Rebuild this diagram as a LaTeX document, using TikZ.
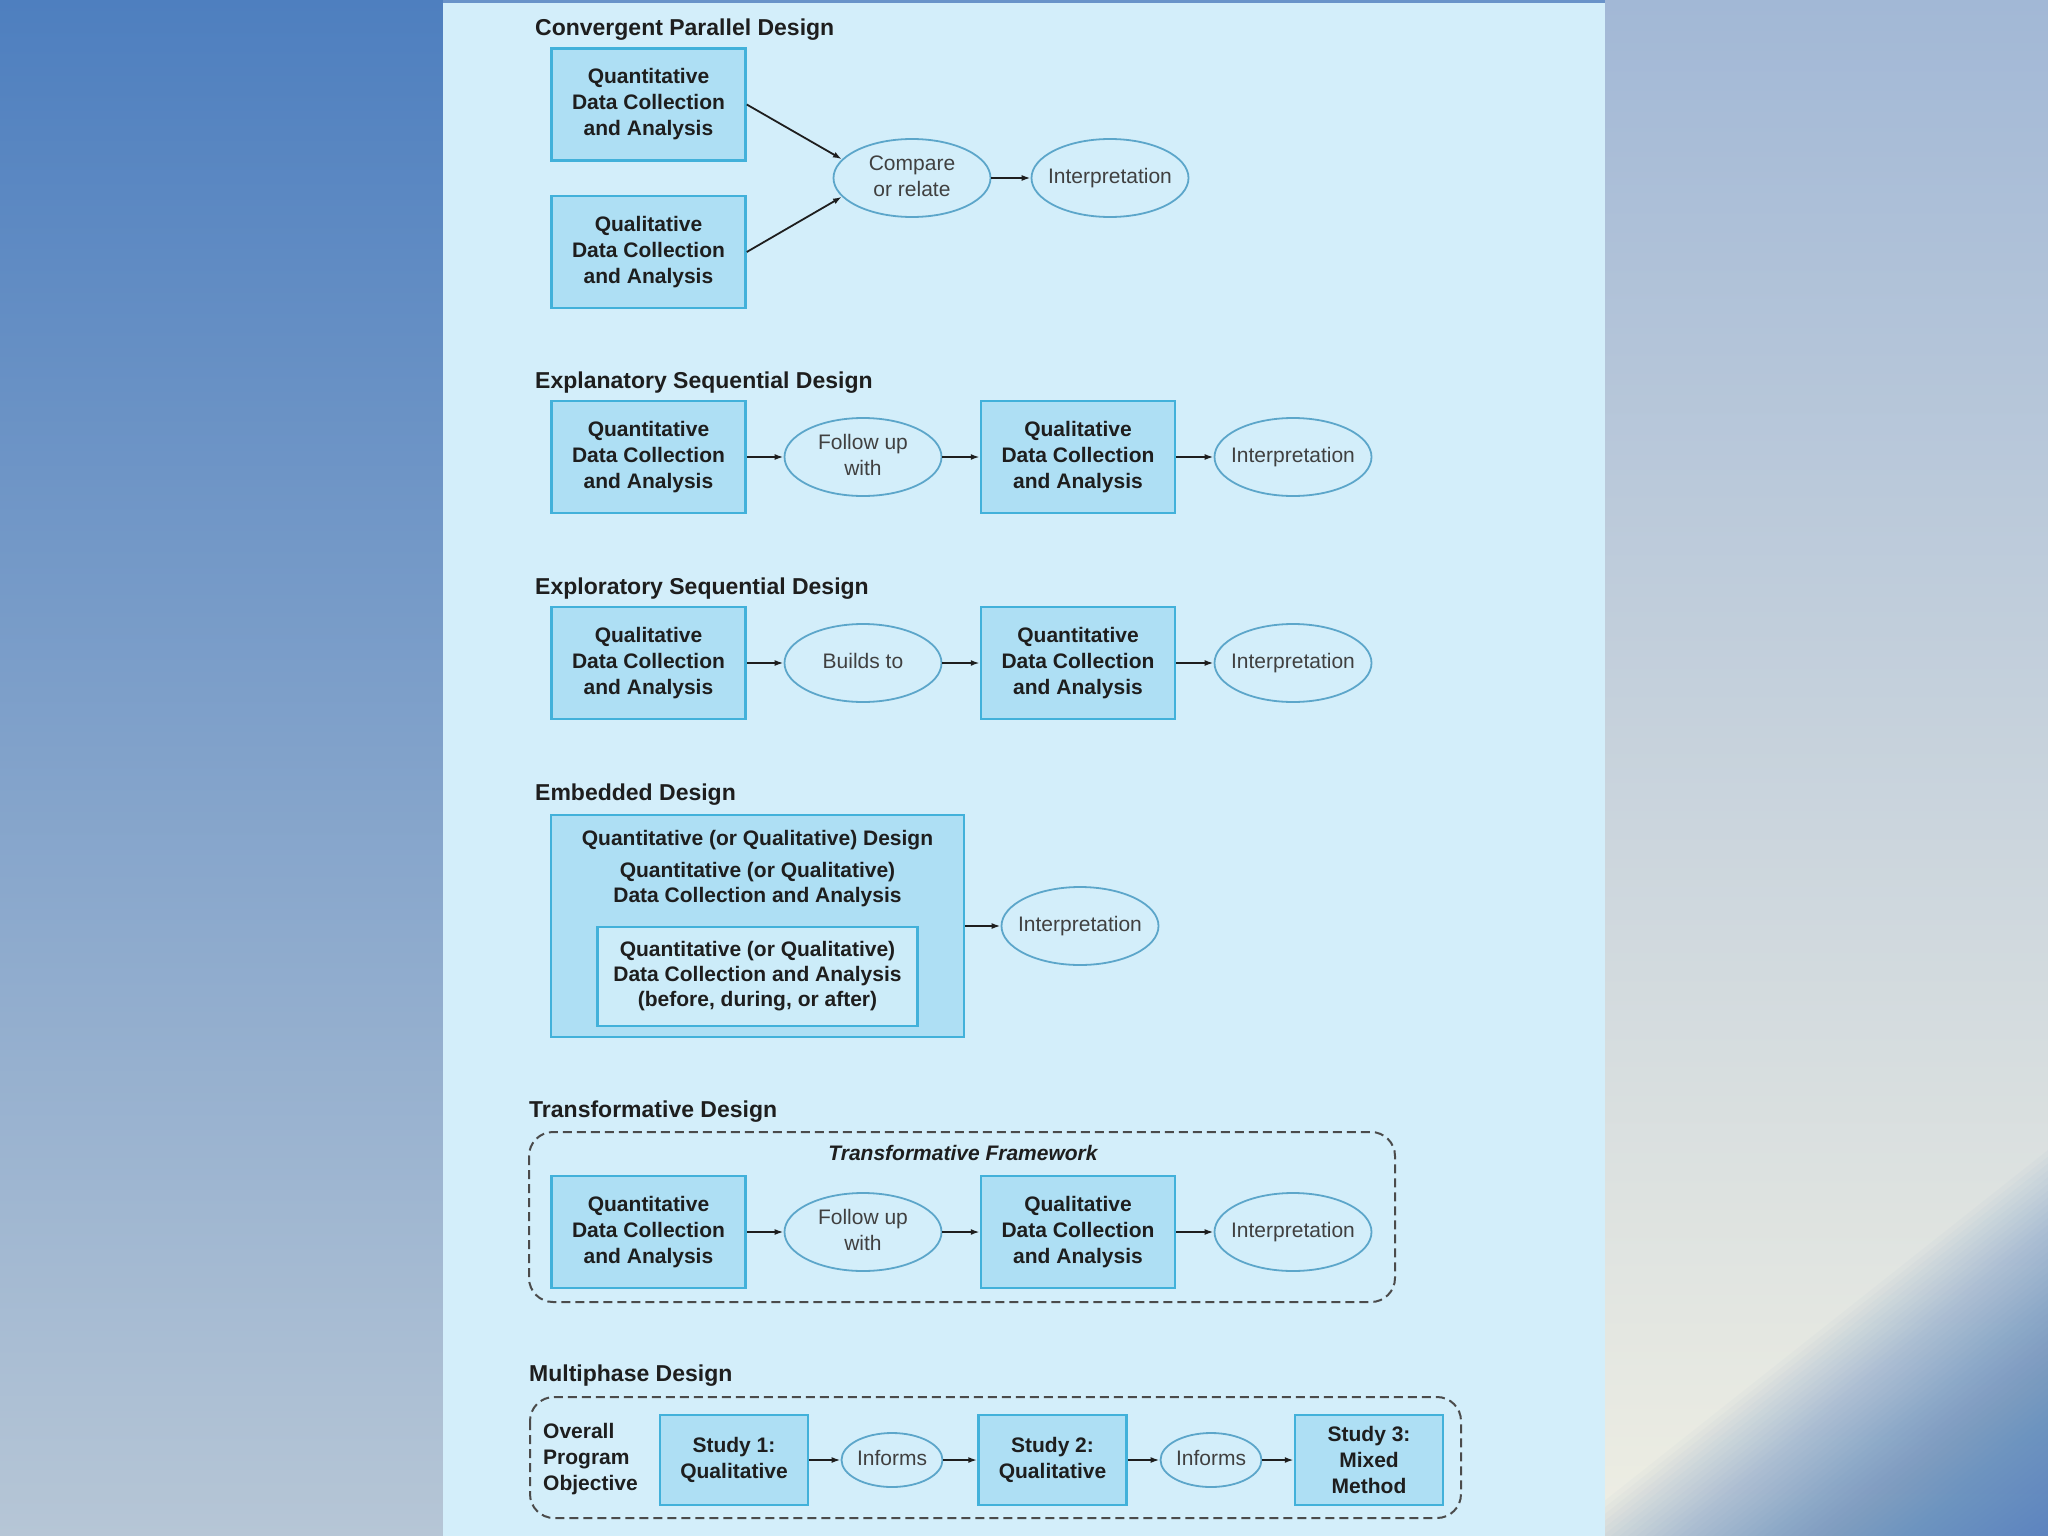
\documentclass[tikz,border=0pt]{standalone}
\usepackage{fontspec}
\setmainfont{Liberation Sans}
\usetikzlibrary{shapes.geometric,arrows.meta}
\definecolor{panel}{HTML}{D3EEFA}\definecolor{boxfill}{HTML}{AEDFF4}\definecolor{boxline}{HTML}{42B1DA}
\definecolor{ovalline}{HTML}{5CA6CA}\definecolor{innerfill}{HTML}{CCECF9}\definecolor{ink}{HTML}{1E1E1E}
\definecolor{ltop}{HTML}{4E7FBF}\definecolor{lbot}{HTML}{B6C6D6}\definecolor{rtop}{HTML}{A2B8D6}
\definecolor{rmid}{HTML}{DADFE3}\definecolor{rbot}{HTML}{EEEEE3}\definecolor{rblue}{HTML}{4F80BF}
\newcommand{\ovtext}[1]{\makebox[0pt]{\begin{tabular}{@{}c@{}}#1\end{tabular}}}
\begin{document}
\begin{tikzpicture}[x=1pt,y=-1pt,
 box/.style={rectangle,draw=boxline,fill=boxfill,line width=2.5pt,minimum width=194pt,minimum height=112pt,inner sep=0pt,align=center,text=ink,font=\fontsize{21}{26}\selectfont\bfseries},
 oval/.style={ellipse,draw=ovalline,fill=panel,line width=1.8pt,minimum width=157pt,minimum height=78pt,inner sep=0pt,text=ink!85,font=\fontsize{21}{26}\selectfont},
 ttl/.style={anchor=west,inner sep=0pt,text=ink,font=\fontsize{23}{28}\selectfont\bfseries},
 plain/.style={inner sep=0pt,align=center,text=ink,font=\fontsize{21}{25}\selectfont\bfseries},
 arr/.style={-{Latex[length=9pt,width=6pt]},line width=1.8pt,draw=ink},
 frame/.style={draw=ink!80,line width=2pt,dash pattern=on 9pt off 5pt,rounded corners=24pt}]
\useasboundingbox (0,0) rectangle (2048,1536);
\shade[top color=ltop,bottom color=lbot] (0,0) rectangle (443,1536);
\shade[top color=rtop,middle color=rmid,bottom color=rbot] (1605,0) rectangle (2048,1536);
\foreach \k in {0,...,59}{\fill[rblue,opacity=0.03] (2048,1536) -- ({1560+\k*8.5},1536) -- (2048,{1150+\k*6.8}) -- cycle;}
\fill[rblue!85!white] (443,0) rectangle (1605,3);
\fill[panel] (443,3) rectangle (1605,1536);

\node[ttl] (t1) at (535,30) {Convergent Parallel Design};
\node[box] (qn1) at (648.5,104.5) {Quantitative\\Data Collection\\and Analysis};
\node[box] (ql1) at (648.5,252) {Qualitative\\Data Collection\\and Analysis};
\node[oval] (cmp) at (912,178) {\ovtext{Compare\\or relate}};
\node[oval] (int1) at (1110,178) {\ovtext{Interpretation}};
\draw[arr] (qn1.east) -- (cmp.165);\draw[arr] (ql1.east) -- (cmp.195);\draw[arr] (cmp) -- (int1);

\node[ttl] (t2) at (535,383) {Explanatory Sequential Design};
\node[box] (qn2) at (648.5,457) {Quantitative\\Data Collection\\and Analysis};
\node[oval] (fu2) at (863,457) {\ovtext{Follow up\\with}};
\node[box] (ql2) at (1078,457) {Qualitative\\Data Collection\\and Analysis};
\node[oval] (int2) at (1293,457) {\ovtext{Interpretation}};
\draw[arr] (qn2) -- (fu2);\draw[arr] (fu2) -- (ql2);\draw[arr] (ql2) -- (int2);

\node[ttl] (t3) at (535,589) {Exploratory Sequential Design};
\node[box] (ql3) at (648.5,663) {Qualitative\\Data Collection\\and Analysis};
\node[oval] (bt3) at (863,663) {\ovtext{Builds to}};
\node[box] (qn3) at (1078,663) {Quantitative\\Data Collection\\and Analysis};
\node[oval] (int3) at (1293,663) {\ovtext{Interpretation}};
\draw[arr] (ql3) -- (bt3);\draw[arr] (bt3) -- (qn3);\draw[arr] (qn3) -- (int3);

\node[ttl] (t4) at (535,795) {Embedded Design};
\node[box,minimum width=413pt,minimum height=222pt] (emb) at (757.5,926) {};
\node[plain] (embd) at (757.5,840) {Quantitative (or Qualitative) Design};
\node[plain] (embq) at (757.5,885) {Quantitative (or Qualitative)\\Data Collection and Analysis};
\node[box,fill=innerfill,minimum width=320pt,minimum height=99pt,font=\fontsize{21}{25}\selectfont\bfseries] (embin) at (757.5,976.5) {Quantitative (or Qualitative)\\Data Collection and Analysis\\(before, during, or after)};
\node[oval] (int4) at (1080,926) {\ovtext{Interpretation}};
\draw[arr] (emb) -- (int4);

\node[ttl] (t5) at (529,1112) {Transformative Design};
\draw[frame] (529,1132) rectangle (1395,1302);
\node[plain,font=\fontsize{21}{25}\selectfont\bfseries\itshape] (tfw) at (963,1153) {Transformative Framework};
\node[box] (qn5) at (648.5,1232) {Quantitative\\Data Collection\\and Analysis};
\node[oval] (fu5) at (863,1232) {\ovtext{Follow up\\with}};
\node[box] (ql5) at (1078,1232) {Qualitative\\Data Collection\\and Analysis};
\node[oval] (int5) at (1293,1232) {\ovtext{Interpretation}};
\draw[arr] (qn5) -- (fu5);\draw[arr] (fu5) -- (ql5);\draw[arr] (ql5) -- (int5);

\node[ttl] (t6) at (529,1376) {Multiphase Design};
\draw[frame] (530,1397) rectangle (1461,1518);
\node[plain,anchor=west,align=left,font=\fontsize{21}{26}\selectfont\bfseries] (obj) at (543,1459) {Overall\\Program\\Objective};
\node[box,minimum width=148pt,minimum height=90pt] (st1) at (734,1460) {Study 1:\\Qualitative};
\node[oval,minimum width=101pt,minimum height=54pt] (inf1) at (892,1460) {\ovtext{Informs}};
\node[box,minimum width=148pt,minimum height=90pt] (st2) at (1052.5,1460) {Study 2:\\Qualitative};
\node[oval,minimum width=101pt,minimum height=54pt] (inf2) at (1211,1460) {\ovtext{Informs}};
\node[box,minimum width=148pt,minimum height=90pt] (st3) at (1369,1460) {Study 3:\\Mixed\\Method};
\draw[arr] (st1) -- (inf1);\draw[arr] (inf1) -- (st2);\draw[arr] (st2) -- (inf2);\draw[arr] (inf2) -- (st3);
\end{tikzpicture}
\end{document}
